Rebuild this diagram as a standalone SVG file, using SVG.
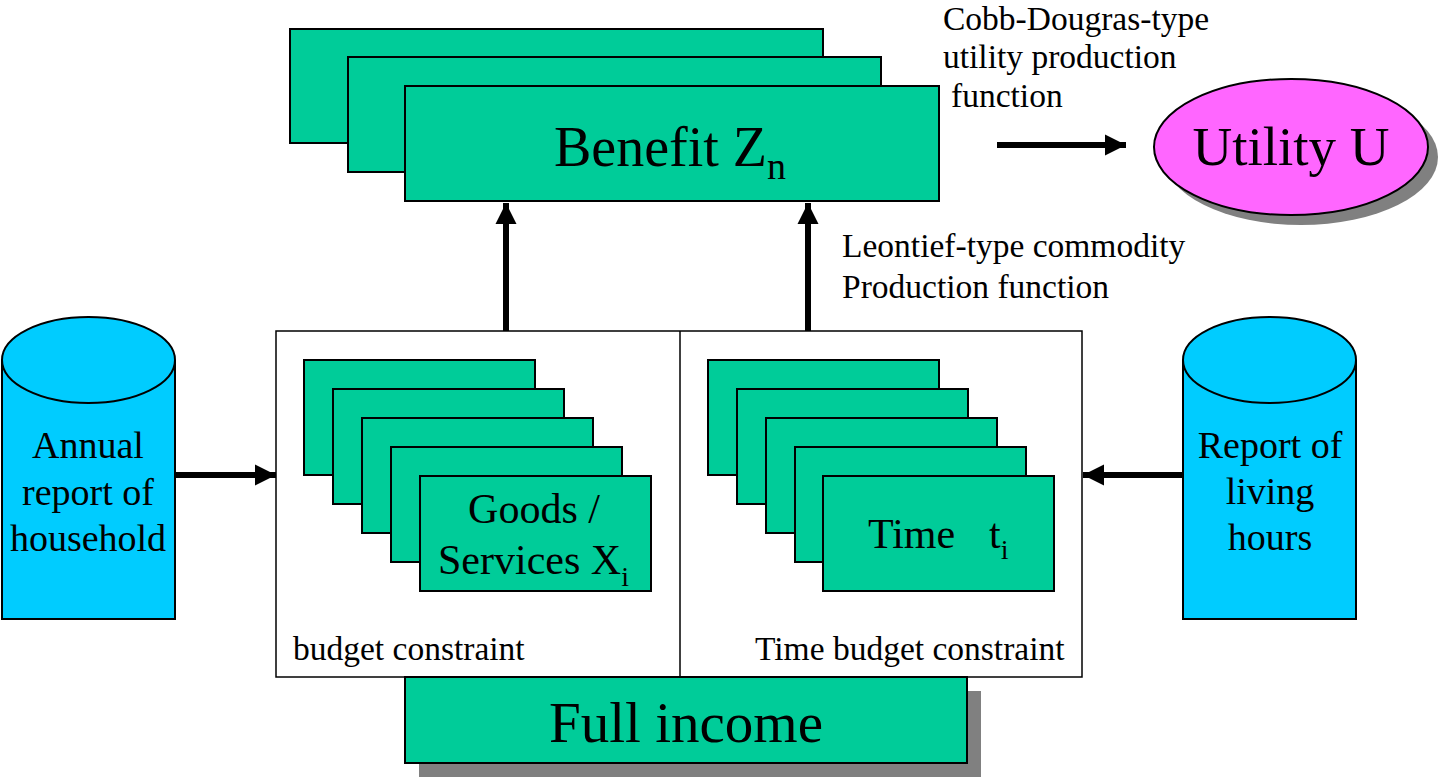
<svg xmlns="http://www.w3.org/2000/svg" width="1441" height="779" viewBox="0 0 1441 779">
<style>
text{font-family:"Liberation Serif","Times New Roman",serif;fill:#000}
.g{fill:#00CC99;stroke:#000;stroke-width:2}
.c{fill:#00CCFF;stroke:#000;stroke-width:2}
.sh{fill:#808080}
.lbl{font-size:33.5px}
.big{font-size:56px}
.mid{font-size:42px}
.cyl{font-size:38px;text-anchor:middle}
.conn{stroke:#000;stroke-width:6;fill:none;marker-end:url(#ah)}
</style>
<defs>
<marker id="ah" markerUnits="userSpaceOnUse" markerWidth="22" markerHeight="22" refX="21" refY="11" orient="auto">
<path d="M0,0.5 L21,11 L0,21.5 Z" fill="#000"/>
</marker>
</defs>
<rect width="1441" height="779" fill="#fff"/>

<g id="benefit">
<rect class="g" x="290" y="29" width="533" height="114"/>
<rect class="g" x="348" y="57" width="533" height="115"/>
<rect class="g" x="405" y="86" width="534" height="115"/>
<text class="big" x="554" y="166">Benefit Z<tspan font-size="38" dy="13">n</tspan></text>
</g>

<g id="utility">
<ellipse class="sh" cx="1301" cy="157" rx="137" ry="68"/>
<ellipse cx="1291" cy="147" rx="137" ry="68" fill="#FF66FF" stroke="#000" stroke-width="2"/>
<text x="1291" y="165" font-size="55" text-anchor="middle">Utility U</text>
</g>

<g id="cobb-label">
<text class="lbl" x="943" y="30">Cobb-Dougras-type</text>
<text class="lbl" x="943" y="68">utility production</text>
<text class="lbl" x="951" y="107">function</text>
</g>

<g id="leontief-label">
<text class="lbl" x="842" y="257">Leontief-type commodity</text>
<text class="lbl" x="842" y="298">Production function</text>
</g>

<g id="constraints">
<rect x="276" y="331" width="806" height="346" fill="#fff" stroke="#000" stroke-width="1.5"/>
<line x1="680" y1="331" x2="680" y2="677" stroke="#000" stroke-width="1.5"/>
<text class="lbl" x="293" y="660">budget constraint</text>
<text class="lbl" x="755" y="660">Time budget constraint</text>
</g>

<g id="goods">
<rect class="g" x="304" y="360" width="231" height="115"/>
<rect class="g" x="333" y="389" width="231" height="115"/>
<rect class="g" x="362" y="418" width="231" height="115"/>
<rect class="g" x="391" y="447" width="231" height="115"/>
<rect class="g" x="420" y="476" width="231" height="115"/>
<text class="mid" x="534" y="523" text-anchor="middle">Goods /</text>
<text class="mid" x="438" y="574">Services X<tspan font-size="28" dy="12">i</tspan></text>
</g>

<g id="time">
<rect class="g" x="708" y="360" width="231" height="115"/>
<rect class="g" x="737" y="389" width="231" height="115"/>
<rect class="g" x="766" y="418" width="231" height="115"/>
<rect class="g" x="795" y="447" width="231" height="115"/>
<rect class="g" x="823" y="476" width="231" height="115"/>
<text class="mid" x="868" y="548">Time<tspan x="989">t</tspan><tspan font-size="28" dy="11">i</tspan></text>
</g>

<g id="annual">
<path class="c" d="M2,360 L2,619 L175,619 L175,360"/>
<ellipse class="c" cx="88.5" cy="360" rx="86.5" ry="43"/>
<text class="cyl" x="88" y="458">Annual</text>
<text class="cyl" x="88" y="505">report of</text>
<text class="cyl" x="88" y="551">household</text>
</g>

<g id="living">
<path class="c" d="M1183,360 L1183,619 L1356,619 L1356,360"/>
<ellipse class="c" cx="1269.5" cy="360" rx="86.5" ry="43"/>
<text class="cyl" x="1270" y="458">Report of</text>
<text class="cyl" x="1270" y="504">living</text>
<text class="cyl" x="1270" y="550">hours</text>
</g>

<g id="fullincome">
<rect class="sh" x="419" y="691" width="562" height="86"/>
<rect class="g" x="405" y="677" width="562" height="86"/>
<text x="686" y="742" font-size="57" text-anchor="middle">Full income</text>
</g>

<g id="connectors">
<line class="conn" x1="506" y1="331" x2="506" y2="203"/>
<line class="conn" x1="808" y1="331" x2="808" y2="203"/>
<line class="conn" x1="997" y1="145" x2="1126" y2="145"/>
<line class="conn" x1="175" y1="475" x2="276" y2="475"/>
<line class="conn" x1="1183" y1="475" x2="1083" y2="475"/>
</g>
</svg>
